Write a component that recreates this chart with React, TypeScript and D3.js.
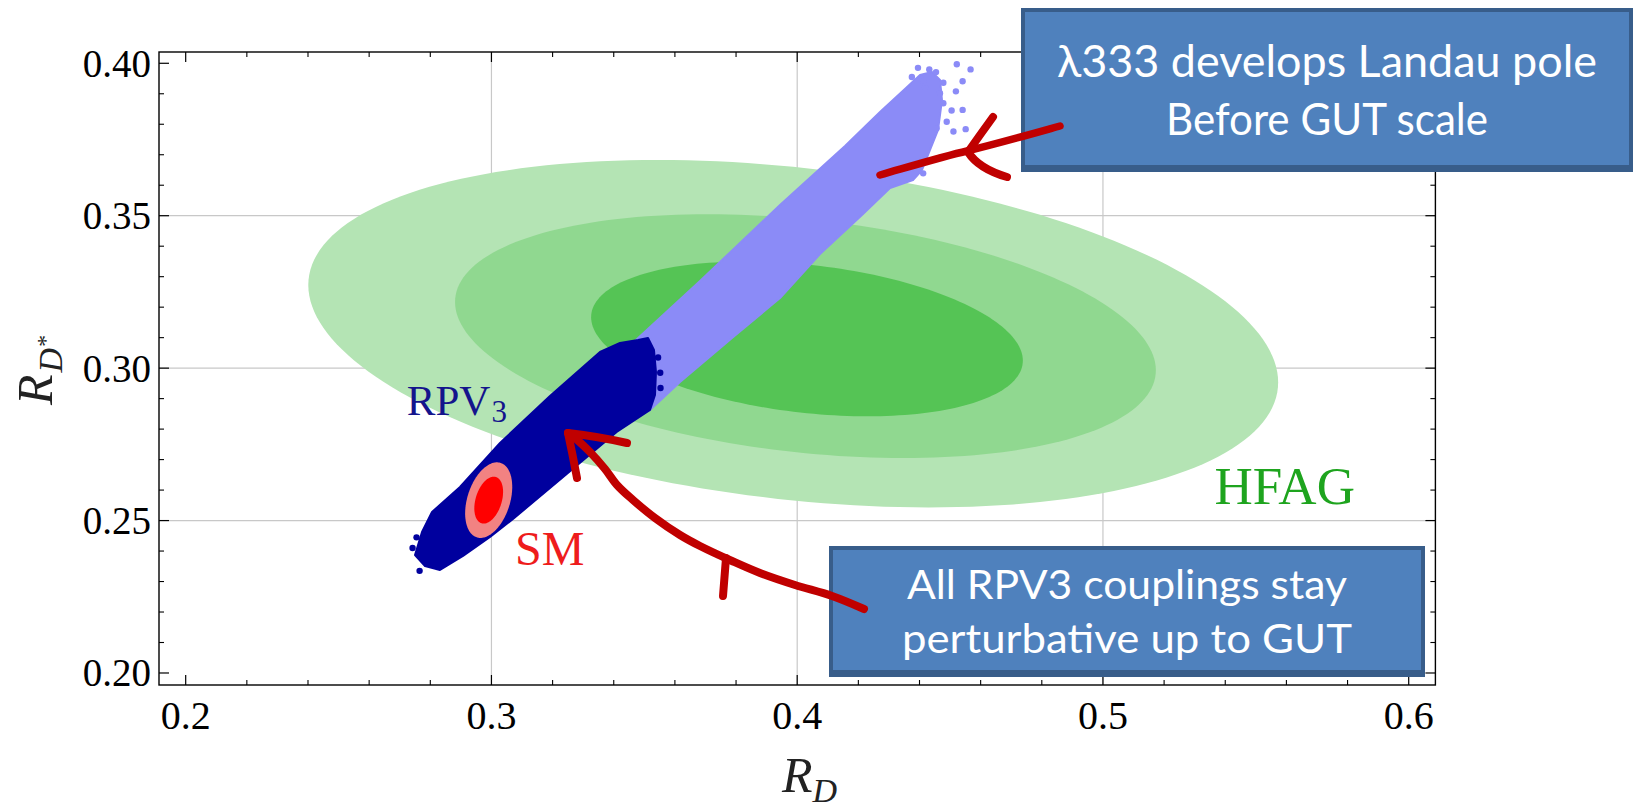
import React from "react";
import * as d3 from "d3";

const W = 1640;
const H = 809;

// ---- axes ----
const xDomain = [0.19127, 0.60873];
const yDomain = [0.19606, 0.4037];
const xMajorTicks = [0.2, 0.3, 0.4, 0.5, 0.6];
const yMajorTicks = [0.2, 0.25, 0.3, 0.35, 0.4];
const xGridValues = [0.3, 0.4, 0.5];
const yGridValues = [0.25, 0.3, 0.35];

// ---- HFAG contours (outer -> inner): centre, half-extents, correlation ----
const hfagCx = [0.3987, 0.4027, 0.4032];
const hfagCy = [0.3113, 0.3105, 0.3096];
const hfagRx = [0.1586, 0.1146, 0.0706];
const hfagRy = [0.057, 0.04, 0.0254];
const hfagRho = -0.28;
const hfagColors = ["#b4e4b4", "#90d890", "#55c455"];

// ---- SM prediction contours (outer -> inner) ----
const smCx = [0.2991, 0.2991];
const smCy = [0.2567, 0.2567];
const smRx = [0.0077, 0.0047];
const smRy = [0.0124, 0.0077];
const smRho = 0.35;
const smColors = ["#f28282", "#ff0000"];

// ---- RPV3 scan: lambda333 develops Landau pole (light points region) ----
const rpvLightOutline = [
  [0.34534, 0.30267], [0.34728, 0.30923], [0.36822, 0.32859], [0.39438, 0.35352],
  [0.41564, 0.37287], [0.42708, 0.38402], [0.43559, 0.3919], [0.44017, 0.39616],
  [0.44409, 0.39715], [0.44671, 0.39452], [0.44736, 0.38796], [0.44606, 0.37812],
  [0.44344, 0.37156], [0.44082, 0.365], [0.43788, 0.36172], [0.43036, 0.35909],
  [0.42152, 0.35056], [0.40746, 0.33744], [0.39438, 0.32301], [0.37868, 0.30989],
  [0.36167, 0.29546], [0.35185, 0.28627], [0.34534, 0.28299],
];
const rpvLightDots = [
  [0.4522, 0.3997], [0.4567, 0.398], [0.4432, 0.398], [0.4454, 0.3971],
  [0.4412, 0.3943], [0.4478, 0.3936], [0.4541, 0.3941], [0.4519, 0.3908],
  [0.4541, 0.3847], [0.4551, 0.3784], [0.4505, 0.3845], [0.4478, 0.3869],
  [0.4489, 0.3808], [0.4456, 0.3787], [0.4418, 0.3918], [0.4467, 0.3902],
  [0.4511, 0.3776], [0.4412, 0.3639], [0.4375, 0.3955], [0.4395, 0.3985],
];

// ---- RPV3 scan: all couplings perturbative up to GUT (dark points region) ----
const rpvDarkOutline = [
  [0.275, 0.23871], [0.27729, 0.24625], [0.28056, 0.25281], [0.28972, 0.26101],
  [0.3028, 0.27544], [0.31915, 0.29086], [0.3355, 0.3053], [0.34204, 0.30825],
  [0.34793, 0.30923], [0.3512, 0.30989], [0.35316, 0.30595], [0.35381, 0.29874],
  [0.35349, 0.29119], [0.35185, 0.28627], [0.34096, 0.27906], [0.32461, 0.26528],
  [0.30705, 0.25052], [0.29953, 0.24461], [0.2907, 0.23838], [0.28317, 0.23379],
  [0.27827, 0.2351],
];
const rpvDarkDots = [
  [0.3545, 0.3035], [0.3552, 0.2985], [0.3553, 0.2935], [0.2755, 0.2445],
  [0.2742, 0.241], [0.2765, 0.2335],
];

// ---- in-plot labels (data positions) ----
const rpvLabelPos = [0.2723, 0.2846];
const smLabelPos = [0.3077, 0.2354];
const hfagLabelPos = [0.5365, 0.2554];

// ---- callout text ----
const box1Lines = ["λ333 develops Landau pole", "Before GUT scale"];
const box2Lines = ["All RPV3 couplings stay", "perturbative up to GUT"];

const x = d3.scaleLinear().domain(xDomain).range([159, 1435.4]);
const y = d3.scaleLinear().domain(yDomain).range([685, 52]);

function ellipsePoints(cx: number, cy: number, rx: number, ry: number, rho: number) {
  const n = 200;
  const pts: number[][] = [];
  for (let i = 0; i < n; i++) {
    const t = (2 * Math.PI * i) / n;
    pts.push([
      cx + rx * Math.cos(t),
      cy + ry * (rho * Math.cos(t) + Math.sqrt(1 - rho * rho) * Math.sin(t)),
    ]);
  }
  return pts;
}

const closedLine = d3
  .line<number[]>()
  .x((d) => x(d[0]))
  .y((d) => y(d[1]))
  .curve(d3.curveLinearClosed);

const arrow2Points: [number, number][] = [
  [864, 609], [832, 596], [795, 585], [760, 573], [732, 561], [700, 546],
  [680, 535], [655, 518], [633, 500], [617, 485], [605, 469], [590, 452], [574, 437],
];
const openCurve = d3.line().curve(d3.curveCatmullRom.alpha(0.5));

const serif = "'Liberation Serif', 'Times New Roman', serif";
const sans = "Lato, 'Open Sans', sans-serif";

function Box({ x0, y0, w, h, lines, fs, baselines, widths }: any) {
  return (
    <g>
      <rect x={x0} y={y0} width={w} height={h} fill="#385d8a" />
      <rect x={x0 + 4} y={y0 + 4} width={w - 8} height={h - 11} fill="#4f81bd" />
      {lines.map((t: string, i: number) => (
        <text
          key={i}
          x={x0 + w / 2}
          y={baselines[i]}
          textAnchor="middle"
          fontFamily={sans}
          fontSize={fs}
          fill="#ffffff"
          textLength={widths[i]}
          lengthAdjust="spacingAndGlyphs"
        >
          {t}
        </text>
      ))}
    </g>
  );
}

export default function App() {
  const xMinor = d3.range(0.2, 0.6001, 0.02).filter((v) => Math.abs(v * 10 - Math.round(v * 10)) > 1e-6);
  const yMinor = d3.range(0.2, 0.4001, 0.01).filter((v) => Math.abs(v * 20 - Math.round(v * 20)) > 1e-6);
  const [xl, xr] = x.range();
  const [yb, yt] = y.range();
  const red = "#c00000";
  const light = "#8b8bf7";
  const dark = "#00009e";

  return (
    <svg
      width={W}
      height={H}
      viewBox={`0 0 ${W} ${H}`}
      style={{ position: "absolute", left: 0, top: 0, background: "#fff" }}
    >
      <rect x={0} y={0} width={W} height={H} fill="#fff" />
      {/* grid */}
      {xGridValues.map((v) => (
        <line key={"gx" + v} x1={x(v)} x2={x(v)} y1={yt} y2={yb} stroke="#c8c8c8" strokeWidth={1.2} />
      ))}
      {yGridValues.map((v) => (
        <line key={"gy" + v} x1={xl} x2={xr} y1={y(v)} y2={y(v)} stroke="#c8c8c8" strokeWidth={1.2} />
      ))}

      {/* HFAG contours */}
      {hfagCx.map((_, i) => (
        <path
          key={"h" + i}
          d={closedLine(ellipsePoints(hfagCx[i], hfagCy[i], hfagRx[i], hfagRy[i], hfagRho)) || ""}
          fill={hfagColors[i]}
        />
      ))}

      {/* RPV3 scan */}
      <path d={closedLine(rpvLightOutline) || ""} fill={light} stroke={light} strokeWidth={2} strokeLinejoin="round" />
      {rpvLightDots.map((d, i) => (
        <circle key={"ld" + i} cx={x(d[0])} cy={y(d[1])} r={3.2} fill={light} />
      ))}
      <path d={closedLine(rpvDarkOutline) || ""} fill={dark} stroke={dark} strokeWidth={2} strokeLinejoin="round" />
      {rpvDarkDots.map((d, i) => (
        <circle key={"dd" + i} cx={x(d[0])} cy={y(d[1])} r={3.2} fill={dark} />
      ))}

      {/* SM */}
      {smCx.map((_, i) => (
        <path
          key={"s" + i}
          d={closedLine(ellipsePoints(smCx[i], smCy[i], smRx[i], smRy[i], smRho)) || ""}
          fill={smColors[i]}
        />
      ))}

      {/* labels */}
      <text x={x(rpvLabelPos[0])} y={y(rpvLabelPos[1])} fontFamily={serif} fontSize={43} fill="#14148c">
        RPV<tspan fontSize={31} dy={7} dx={1}>3</tspan>
      </text>
      <text x={x(smLabelPos[0])} y={y(smLabelPos[1])} fontFamily={serif} fontSize={48} fill="#ee1c1c">
        SM
      </text>
      <text x={x(hfagLabelPos[0])} y={y(hfagLabelPos[1])} fontFamily={serif} fontSize={53} fill="#1ea41e">
        HFAG
      </text>

      {/* frame */}
      <rect x={xl} y={yt} width={xr - xl} height={yb - yt} fill="none" stroke="#000" strokeWidth={1.4} />
      {xMajorTicks.map((v) => (
        <g key={"xt" + v}>
          <line x1={x(v)} x2={x(v)} y1={yb} y2={yb - 10} stroke="#000" strokeWidth={1.2} />
          <line x1={x(v)} x2={x(v)} y1={yt} y2={yt + 10} stroke="#000" strokeWidth={1.2} />
          <text x={x(v)} y={729} textAnchor="middle" fontFamily={serif} fontSize={40} fill="#000">
            {d3.format(".1f")(v)}
          </text>
        </g>
      ))}
      {xMinor.map((v) => (
        <g key={"xm" + v}>
          <line x1={x(v)} x2={x(v)} y1={yb} y2={yb - 5} stroke="#000" strokeWidth={1.1} />
          <line x1={x(v)} x2={x(v)} y1={yt} y2={yt + 5} stroke="#000" strokeWidth={1.1} />
        </g>
      ))}
      {yMajorTicks.map((v) => (
        <g key={"yt" + v}>
          <line x1={xl} x2={xl + 10} y1={y(v)} y2={y(v)} stroke="#000" strokeWidth={1.2} />
          <line x1={xr} x2={xr - 10} y1={y(v)} y2={y(v)} stroke="#000" strokeWidth={1.2} />
          <text x={151} y={y(v) + 13.5} textAnchor="end" fontFamily={serif} fontSize={39} fill="#000">
            {d3.format(".2f")(v)}
          </text>
        </g>
      ))}
      {yMinor.map((v) => (
        <g key={"ym" + v}>
          <line x1={xl} x2={xl + 5} y1={y(v)} y2={y(v)} stroke="#000" strokeWidth={1.1} />
          <line x1={xr} x2={xr - 5} y1={y(v)} y2={y(v)} stroke="#000" strokeWidth={1.1} />
        </g>
      ))}

      {/* axis titles */}
      <text x={782} y={792} fontFamily={serif} fontStyle="italic" fontSize={50} fill="#222">
        R<tspan fontSize={34} dy={10}>D</tspan>
      </text>
      <text transform="translate(52,405) rotate(-90)" fontFamily={serif} fontStyle="italic" fontSize={50} fill="#222">
        R<tspan fontSize={34} dy={10} dx={2}>D</tspan>
        <tspan fontSize={24} dy={-9}>*</tspan>
      </text>

      {/* callout boxes */}
      <Box x0={1021} y0={8} w={612} h={164} lines={box1Lines} fs={44} baselines={[77, 135]} widths={[540, 322]} />
      <Box x0={829} y0={546} w={596} h={131} lines={box2Lines} fs={41} baselines={[599, 653]} widths={[440, 450]} />

      {/* hand-drawn arrows */}
      <g fill="none" stroke={red} strokeLinecap="round" strokeLinejoin="round">
        <path d="M 880 175 C 915 165, 945 156, 967 151 C 1000 143, 1035 133, 1060 126" strokeWidth={7.5} />
        <path d="M 993 117 C 985 128, 975 142, 968 152 C 975 163, 990 172, 1007 177" strokeWidth={8} />
        <path d={openCurve(arrow2Points) || ""} strokeWidth={8} />
        <path d="M 568 433 C 585 435, 605 438, 627 443" strokeWidth={8} />
        <path d="M 568 433 C 571 447, 574 462, 577 478" strokeWidth={8} />
        <path d="M 726 558 C 725 572, 724 584, 723 596" strokeWidth={8} />
      </g>
    </svg>
  );
}
